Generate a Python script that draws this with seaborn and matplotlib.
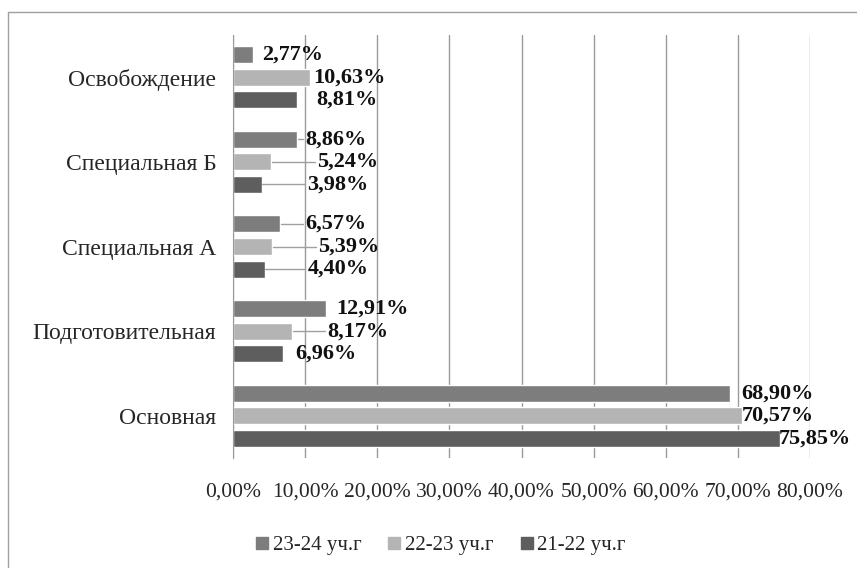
import matplotlib
matplotlib.use('Agg')
import numpy as np
import matplotlib.pyplot as plt
import seaborn as sns
import pandas as pd
from matplotlib.ticker import FuncFormatter
from matplotlib.lines import Line2D

#%% данные
categories = ['Освобождение', 'Специальная Б', 'Специальная А', 'Подготовительная', 'Основная']
years = ['23-24 уч.г', '22-23 уч.г', '21-22 уч.г']
v_23_24 = [2.77, 8.86, 6.57, 12.91, 68.90]
v_22_23 = [10.63, 5.24, 5.39, 8.17, 70.57]
v_21_22 = [8.81, 3.98, 4.40, 6.96, 75.85]
colors = ['#7d7d7d', '#b4b4b4', '#5e5e5e']

# положение подписей (x в %), и нужна ли линия-выноска
label_x = {
    '23-24 уч.г': [4.0, 10.0, 10.0, 14.3, 70.4],
    '22-23 уч.г': [11.1, 11.7, 11.8, 13.1, 70.6],
    '21-22 уч.г': [11.5, 10.3, 10.3, 8.6, 75.7],
}
leader = {
    '23-24 уч.г': [False, True, True, False, False],
    '22-23 уч.г': [False, True, True, True, False],
    '21-22 уч.г': [False, True, True, False, False],
}

df = pd.DataFrame({
    'cat': categories * 3,
    'year': [y for y in years for _ in categories],
    'val': v_23_24 + v_22_23 + v_21_22,
})

#%% стиль
sns.set_style('white')
plt.rcParams['font.family'] = ['Liberation Serif', 'DejaVu Serif']

fig = plt.figure(figsize=(8.57, 5.68), dpi=100)
ax = fig.add_axes([233/857, 1 - 458/568, (810 - 233)/857, (458 - 35)/568])

sns.barplot(data=df, y='cat', x='val', hue='year', order=categories,
            hue_order=years, palette=colors, orient='h', width=0.8, gap=0.25,
            errorbar=None, ax=ax, legend=False, saturation=1)

ax.set_xlim(0, 80)
ax.set_ylim(4.5, -0.5)
ax.set_xticks(np.arange(0, 81, 10))
ax.xaxis.set_major_formatter(FuncFormatter(lambda v, p: ('%.2f%%' % v).replace('.', ',')))
ax.grid(axis='x', color='#9a9a9a', lw=1)
ax.set_axisbelow(True)
for s in ['top', 'right', 'bottom']:
    ax.spines[s].set_visible(False)
ax.spines['left'].set_color('#9a9a9a')
ax.tick_params(axis='x', length=0, labelsize=15.5, pad=18)
ax.tick_params(axis='y', length=0, labelsize=17, pad=12)
ax.set_xlabel('')
ax.set_ylabel('')

#%% подписи данных
for cont, yr in zip(ax.containers, years):
    for i, bar in enumerate(cont.patches):
        w = bar.get_width()
        yc = bar.get_y() + bar.get_height() / 2
        lx = label_x[yr][i]
        if leader[yr][i]:
            ax.plot([w + 0.1, lx - 0.3], [yc, yc], color='#a0a0a0', lw=1, zorder=1)
        ax.text(lx, yc, ('%.2f%%' % w).replace('.', ','), va='center', ha='left',
                fontsize=16, fontweight='bold', color='#111111')

#%% легенда
handles = [Line2D([], [], marker='s', ls='', color=c, markersize=8) for c in colors]
fig.legend(handles, years, loc='center', bbox_to_anchor=(0.513, 0.04), ncol=3,
           frameon=False, fontsize=15, handletextpad=0.1, columnspacing=1.2,
           handlelength=0.8)

#%% рамка
fig.add_artist(Line2D([8/857, 8/857], [0, 1 - 12/568], color='#a0a0a0', lw=1))
fig.add_artist(Line2D([8/857, 1], [1 - 12/568, 1 - 12/568], color='#a0a0a0', lw=1))

fig.savefig('out.png', dpi=100)
